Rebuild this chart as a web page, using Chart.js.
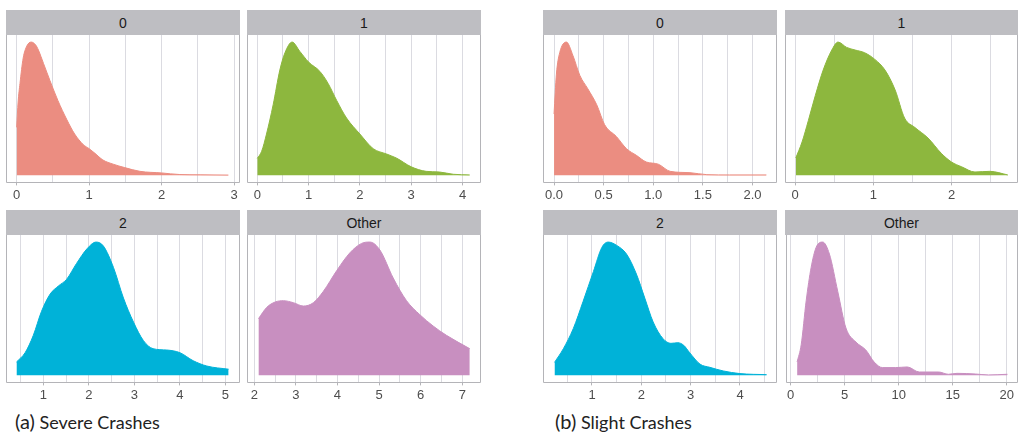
<!DOCTYPE html>
<html>
<head>
<meta charset="utf-8">
<script src="https://cdn.jsdelivr.net/npm/chart.js@4/dist/chart.umd.min.js"></script>
<style>
  body { margin: 0; background: #fff; width: 1018px; height: 432px; position: relative; overflow: hidden; }
  .panel { position: absolute; }
  .strip { height: 25px; background: #bebec2; color: #1a1a1a; font: 14px "Liberation Sans", Arial, sans-serif;
           text-align: center; line-height: 26px; }
  canvas { display: block; }
  .caption { position: absolute; top: 409px; font-family: Lato, sans-serif; font-size: 18px; line-height: 1.2; color: #222; }
  .caption b { font-weight: normal; font-size: 20px; }
</style>
</head>
<body>
<div class="caption" style="left:15px"><b>(a)</b> Severe Crashes</div>
<div class="caption" style="left:555px"><b>(b)</b> Slight Crashes</div>
<script>
// (a) Severe crashes, 0
var sev0X = [0, 0.02, 0.046, 0.09, 0.14, 0.2, 0.26, 0.3, 0.37, 0.46, 0.57, 0.69, 0.8, 0.92, 1.0, 1.08, 1.19, 1.33, 1.49, 1.7, 2.0, 2.25, 2.53, 2.92];
var sev0Y = [0.36, 0.55, 0.69, 0.88, 0.97, 1.0, 0.98, 0.94, 0.84, 0.71, 0.56, 0.42, 0.31, 0.23, 0.2, 0.165, 0.115, 0.084, 0.058, 0.03, 0.018, 0.006, 0.004, 0.002];
// (a) Severe crashes, 1
var sev1X = [0, 0.085, 0.18, 0.31, 0.44, 0.54, 0.68, 0.83, 1.0, 1.22, 1.38, 1.55, 1.74, 2.0, 2.26, 2.52, 2.71, 3.0, 3.29, 3.55, 3.82, 4.14];
var sev1Y = [0.127, 0.18, 0.31, 0.53, 0.79, 0.92, 1.0, 0.93, 0.85, 0.78, 0.69, 0.56, 0.43, 0.31, 0.2, 0.16, 0.13, 0.064, 0.03, 0.025, 0.008, 0.003];
// (a) Severe crashes, 2
var sev2X = [0.41, 0.6, 0.78, 0.96, 1.15, 1.33, 1.51, 1.73, 1.96, 2.16, 2.32, 2.54, 2.76, 2.98, 3.2, 3.41, 3.71, 4.0, 4.29, 4.59, 5.07];
var sev2Y = [0.1, 0.17, 0.3, 0.48, 0.61, 0.67, 0.72, 0.84, 0.95, 1.0, 0.97, 0.81, 0.58, 0.4, 0.26, 0.2, 0.19, 0.17, 0.11, 0.07, 0.046];
// (a) Severe crashes, Other
var sevOX = [2.1, 2.3, 2.5, 2.7, 2.94, 3.18, 3.42, 3.66, 3.98, 4.3, 4.58, 4.78, 5.02, 5.34, 5.66, 5.98, 6.3, 6.62, 7.18];
var sevOY = [0.425, 0.51, 0.55, 0.56, 0.545, 0.52, 0.545, 0.63, 0.785, 0.92, 0.99, 1.0, 0.94, 0.73, 0.56, 0.455, 0.37, 0.3, 0.2];
// (b) Slight crashes, 0
var sli0X = [0, 0.024, 0.057, 0.125, 0.19, 0.26, 0.34, 0.43, 0.51, 0.63, 0.73, 0.83, 0.93, 1.05, 1.17, 1.37, 1.54, 1.77, 2.14];
var sli0Y = [0.46, 0.76, 0.92, 1.0, 0.9, 0.75, 0.65, 0.53, 0.38, 0.29, 0.2, 0.15, 0.1, 0.084, 0.03, 0.02, 0.005, 0.003, 0.003];
// (b) Slight crashes, 1
var sli1X = [0.01, 0.09, 0.17, 0.26, 0.36, 0.47, 0.55, 0.66, 0.77, 0.89, 1.02, 1.15, 1.28, 1.4, 1.53, 1.7, 1.87, 2.0, 2.13, 2.3, 2.49, 2.72];
var sli1Y = [0.13, 0.25, 0.41, 0.6, 0.79, 0.94, 1.0, 0.96, 0.94, 0.92, 0.87, 0.79, 0.64, 0.43, 0.36, 0.28, 0.165, 0.1, 0.064, 0.025, 0.03, 0.003];
// (b) Slight crashes, 2
var sli2X = [0.24, 0.42, 0.62, 0.82, 1.03, 1.2, 1.33, 1.5, 1.7, 1.9, 2.07, 2.24, 2.44, 2.6, 2.74, 2.86, 2.98, 3.19, 3.39, 3.66, 4.0, 4.54];
var sli2Y = [0.097, 0.2, 0.35, 0.555, 0.78, 0.96, 1.0, 0.975, 0.91, 0.76, 0.58, 0.4, 0.275, 0.24, 0.245, 0.225, 0.17, 0.084, 0.06, 0.033, 0.013, 0.005];
// (b) Slight crashes, Other
var sliOX = [0.6, 0.98, 1.44, 1.9, 2.36, 2.97, 3.59, 4.36, 5.12, 6.04, 6.96, 7.73, 8.5, 9.7, 10.8, 11.9, 13.7, 14.6, 15.4, 17.1, 18.3, 20.06];
var sliOY = [0.1, 0.23, 0.56, 0.81, 0.96, 1.0, 0.91, 0.63, 0.355, 0.25, 0.19, 0.1, 0.058, 0.058, 0.063, 0.025, 0.025, 0.008, 0.015, 0.01, 0.003, 0.008];

// grid lines and labelled ticks
var sev0Grid = [0, 0.5, 1, 1.5, 2, 2.5, 3];
var sev0Ticks = [0, 1, 2, 3];
var sev0Labels = ['0', '1', '2', '3'];
var sev1Grid = [0, 0.5, 1, 1.5, 2, 2.5, 3, 3.5, 4];
var sev1Ticks = [0, 1, 2, 3, 4];
var sev1Labels = ['0', '1', '2', '3', '4'];
var sev2Grid = [0.5, 1, 1.5, 2, 2.5, 3, 3.5, 4, 4.5, 5];
var sev2Ticks = [1, 2, 3, 4, 5];
var sev2Labels = ['1', '2', '3', '4', '5'];
var sevOGrid = [2, 2.5, 3, 3.5, 4, 4.5, 5, 5.5, 6, 6.5, 7];
var sevOTicks = [2, 3, 4, 5, 6, 7];
var sevOLabels = ['2', '3', '4', '5', '6', '7'];
var sli0Grid = [0, 0.25, 0.5, 0.75, 1, 1.25, 1.5, 1.75, 2];
var sli0Ticks = [0, 0.5, 1, 1.5, 2];
var sli0Labels = ['0.0', '0.5', '1.0', '1.5', '2.0'];
var sli1Grid = [0, 0.5, 1, 1.5, 2, 2.5];
var sli1Ticks = [0, 1, 2];
var sli1Labels = ['0', '1', '2'];
var sli2Grid = [0.5, 1, 1.5, 2, 2.5, 3, 3.5, 4, 4.5];
var sli2Ticks = [1, 2, 3, 4];
var sli2Labels = ['1', '2', '3', '4'];
var sliOGrid = [0, 2.5, 5, 7.5, 10, 12.5, 15, 17.5, 20];
var sliOTicks = [0, 5, 10, 15, 20];
var sliOLabels = ['0', '5', '10', '15', '20'];

var red = 'rgb(235,141,129)', green = 'rgb(141,183,62)', cyan = 'rgb(0,178,216)', purple = 'rgb(200,143,192)';
var gridColor = 'rgb(219,219,225)', frameColor = 'rgb(180,180,184)';

var panels = [
  { title: '0', left: 6, top: 10, w: 234, xs: sev0X, ys: sev0Y, color: red, grid: sev0Grid, ticks: sev0Ticks, labels: sev0Labels, min: -0.147, max: 3.08 },
  { title: '1', left: 247, top: 10, w: 234, xs: sev1X, ys: sev1Y, color: green, grid: sev1Grid, ticks: sev1Ticks, labels: sev1Labels, min: -0.2, max: 4.36 },
  { title: '2', left: 6, top: 210, w: 234, xs: sev2X, ys: sev2Y, color: cyan, grid: sev2Grid, ticks: sev2Ticks, labels: sev2Labels, min: 0.18, max: 5.32 },
  { title: 'Other', left: 247, top: 210, w: 234, xs: sevOX, ys: sevOY, color: purple, grid: sevOGrid, ticks: sevOTicks, labels: sevOLabels, min: 1.825, max: 7.45 },
  { title: '0', left: 543, top: 10, w: 234, xs: sli0X, ys: sli0Y, color: red, grid: sli0Grid, ticks: sli0Ticks, labels: sli0Labels, min: -0.107, max: 2.247 },
  { title: '1', left: 785, top: 10, w: 233, xs: sli1X, ys: sli1Y, color: green, grid: sli1Grid, ticks: sli1Ticks, labels: sli1Labels, min: -0.128, max: 2.85 },
  { title: '2', left: 543, top: 210, w: 234, xs: sli2X, ys: sli2Y, color: cyan, grid: sli2Grid, ticks: sli2Ticks, labels: sli2Labels, min: 0.007, max: 4.75 },
  { title: 'Other', left: 785, top: 210, w: 233, xs: sliOX, ys: sliOY, color: purple, grid: sliOGrid, ticks: sliOTicks, labels: sliOLabels, min: -0.4, max: 21.04 }
];

// left, right and bottom frame of each panel
var panelFrame = {
  id: 'panelFrame',
  afterDraw: function (chart) {
    var a = chart.chartArea, ctx = chart.ctx;
    var l = Math.round(a.left) + 0.5, r = Math.round(a.right) - 0.5, b = Math.round(a.bottom) + 0.5;
    ctx.save();
    ctx.strokeStyle = frameColor;
    ctx.lineWidth = 1;
    ctx.beginPath();
    ctx.moveTo(l, a.top);
    ctx.lineTo(l, b);
    ctx.lineTo(r, b);
    ctx.lineTo(r, a.top);
    ctx.stroke();
    ctx.restore();
  }
};

function labelIndex(p, v) {
  for (var i = 0; i < p.ticks.length; i++) {
    if (Math.abs(p.ticks[i] - v) < 1e-9) return i;
  }
  return -1;
}

panels.forEach(function (p) {
  var div = document.createElement('div');
  div.className = 'panel';
  div.style.left = p.left + 'px';
  div.style.top = p.top + 'px';
  div.style.width = p.w + 'px';
  var strip = document.createElement('div');
  strip.className = 'strip';
  strip.textContent = p.title;
  div.appendChild(strip);
  var cv = document.createElement('canvas');
  cv.width = p.w;
  cv.height = 170;
  div.appendChild(cv);
  document.body.appendChild(div);

  var pts = p.xs.map(function (x, i) { return { x: x, y: p.ys[i] }; });

  new Chart(cv, {
    type: 'line',
    data: {
      datasets: [{
        data: pts,
        fill: 'origin',
        backgroundColor: p.color,
        borderColor: p.color,
        borderWidth: 1,
        pointRadius: 0,
        cubicInterpolationMode: 'monotone'
      }]
    },
    options: {
      responsive: false,
      animation: false,
      devicePixelRatio: 1,
      layout: { padding: 0 },
      plugins: { legend: { display: false }, tooltip: { enabled: false } },
      scales: {
        x: {
          type: 'linear',
          min: p.min,
          max: p.max,
          bounds: 'data',
          afterBuildTicks: function (axis) {
            axis.ticks = p.grid.map(function (v) { return { value: v }; });
          },
          border: { display: false },
          grid: {
            color: gridColor,
            lineWidth: 1,
            tickLength: 3,
            tickColor: function (ctx) {
              return ctx.tick && labelIndex(p, ctx.tick.value) >= 0 ? frameColor : 'rgba(0,0,0,0)';
            }
          },
          ticks: {
            autoSkip: false,
            maxRotation: 0,
            padding: 2,
            color: '#4d4d4d',
            font: { family: '"Liberation Sans", Arial, sans-serif', size: 13 },
            callback: function (v) {
              var i = labelIndex(p, v);
              return i >= 0 ? p.labels[i] : '';
            }
          }
        },
        y: {
          display: false,
          min: -0.053,
          max: 1.053
        }
      }
    },
    plugins: [panelFrame]
  });
});
</script>
</body>
</html>
